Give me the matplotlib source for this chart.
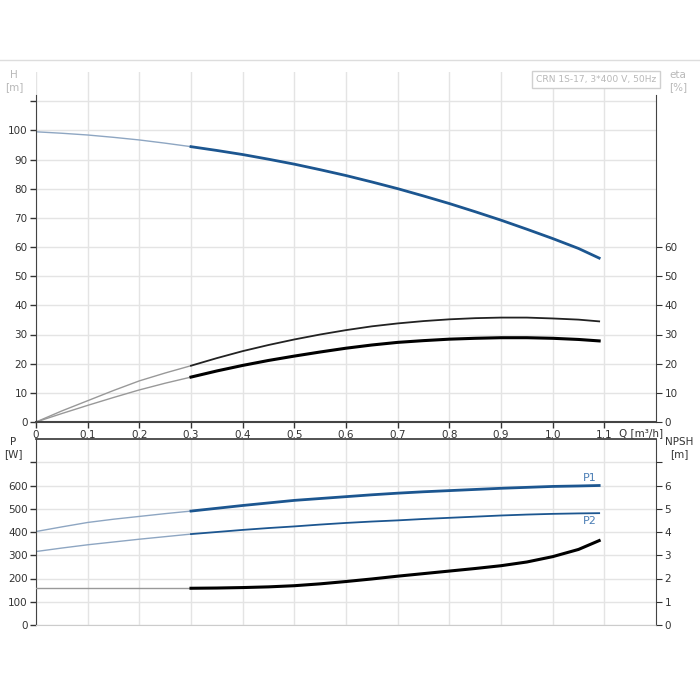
import numpy as np
import matplotlib
matplotlib.use('Agg')
import matplotlib.pyplot as plt

# flow points, m3/h
q = [0.0, 0.05, 0.1, 0.15, 0.2, 0.25, 0.3, 0.35, 0.4, 0.45, 0.5, 0.55,
     0.6, 0.65, 0.7, 0.75, 0.8, 0.85, 0.9, 0.95, 1.0, 1.05, 1.09]

# head [m]
head = [99.5, 99.0, 98.4, 97.6, 96.7, 95.6, 94.4, 93.1, 91.7, 90.1, 88.4, 86.5,
        84.5, 82.3, 80.0, 77.5, 74.9, 72.1, 69.2, 66.1, 62.9, 59.5, 56.2]
# efficiencies [%]
eta_pump = [0.0, 3.8, 7.3, 10.8, 14.1, 16.8, 19.3, 21.9, 24.3, 26.4, 28.3, 30.0,
            31.5, 32.8, 33.8, 34.6, 35.2, 35.6, 35.8, 35.8, 35.5, 35.1, 34.5]
eta_total = [0.0, 2.9, 5.7, 8.4, 11.0, 13.3, 15.4, 17.5, 19.4, 21.1, 22.6, 24.0,
             25.3, 26.4, 27.3, 27.9, 28.4, 28.7, 28.9, 28.9, 28.7, 28.3, 27.8]
# power [W]
p1 = [402, 422, 441, 455, 467, 479, 490, 502, 514, 525, 536, 544,
      552, 560, 567, 573, 578, 583, 588, 592, 596, 598, 600]
p2 = [316, 331, 345, 357, 369, 380, 391, 400, 409, 417, 424, 432,
      439, 445, 450, 456, 461, 466, 471, 475, 478, 480, 481]
# NPSH [m]
npsh = [1.58, 1.58, 1.58, 1.58, 1.58, 1.58, 1.58, 1.59, 1.61, 1.64, 1.69, 1.77,
        1.87, 1.98, 2.10, 2.21, 2.32, 2.43, 2.55, 2.71, 2.94, 3.25, 3.63]

title = "CRN 1S-17, 3*400 V, 50Hz"
q_ticks = [0, 0.1, 0.2, 0.3, 0.4, 0.5, 0.6, 0.7, 0.8, 0.9, 1.0, 1.1]
q_labels = ['0', '0.1', '0.2', '0.3', '0.4', '0.5', '0.6', '0.7', '0.8', '0.9', '1.0', '1.1']

BLUE = '#1c5690'
THIN_BLUE = '#8ea6c2'
GRID = '#e4e4e4'
TXT = '#333333'
LIGHT = '#b8b8b8'
start = 6  # index of q=0.3, where the thick part starts

plt.rcParams['font.family'] = ['DejaVu Sans']
plt.rcParams['font.size'] = 7.5

fig = plt.figure(figsize=(7, 7), dpi=100)
ax1 = fig.add_axes([36/700, 1 - 422/700, 620/700, 350/700])
ax2 = fig.add_axes([36/700, 1 - 625/700, 620/700, 186/700])

fig.add_artist(plt.Line2D([0, 1], [1 - 60/700, 1 - 60/700], color='#dddddd', lw=1))


def style(ax, ymax, yticks, ylabels):
    ax.set_xlim(0, 1.2)
    ax.set_ylim(0, ymax)
    ax.set_xticks(q_ticks)
    ax.set_yticks(yticks)
    ax.set_yticklabels(ylabels)
    ax.grid(True, color=GRID, lw=1)
    ax.set_axisbelow(True)
    ax.tick_params(colors=TXT, labelcolor=TXT, length=4, width=1, pad=2)
    for s in ['top', 'right', 'bottom', 'left']:
        ax.spines[s].set_color('#444444')


# ---- top: head and efficiency ----
style(ax1, 120, np.arange(0, 120, 10), [str(v) if v <= 100 else '' for v in range(0, 120, 10)])
ax1.set_xticklabels(q_labels)
ax1.spines['top'].set_visible(False)
ax1.spines['left'].set_bounds(0, 112)
ax1.spines['right'].set_bounds(0, 112)
ax1.spines['bottom'].set_linewidth(1.5)
ax1r = ax1.twinx()
ax1r.set_ylim(0, 120)
ax1r.set_yticks(np.arange(0, 70, 10))
ax1r.tick_params(colors=TXT, labelcolor=TXT, length=4, pad=2)
for s in ax1r.spines.values():
    s.set_visible(False)

ax1.plot(q[:start + 1], head[:start + 1], color=THIN_BLUE, lw=1)
ax1.plot(q[start:], head[start:], color=BLUE, lw=2)
ax1.plot(q[:start + 1], eta_pump[:start + 1], color='#999999', lw=1)
ax1.plot(q[start:], eta_pump[start:], color='#222222', lw=1.3)
ax1.plot(q[:start + 1], eta_total[:start + 1], color='#999999', lw=1)
ax1.plot(q[start:], eta_total[start:], color='black', lw=2.2)

ax1.text(1.128, -2.2, 'Q [m³/h]', ha='left', va='top', color=TXT)
fig.text(14/700, 1 - 81/700, 'H\n[m]', ha='center', va='center', color=LIGHT, fontsize=7.5)
fig.text(678/700, 1 - 81/700, 'eta\n[%]', ha='center', va='center', color=LIGHT, fontsize=7.5)
fig.text(596/700, 1 - 79.5/700, title, ha='center', va='center', color=LIGHT, fontsize=6.6,
         bbox=dict(boxstyle='square,pad=0.45', fc='white', ec='#d0d0d0', lw=1))

# ---- bottom: power and NPSH ----
style(ax2, 800, np.arange(0, 800, 100), [str(v) if v <= 600 else '' for v in range(0, 800, 100)])
ax2.set_xticklabels([])
ax2.tick_params(axis='x', length=0)
ax2.spines['bottom'].set_color('#cccccc')
ax2.spines['top'].set_linewidth(1.3)
ax2r = ax2.twinx()
ax2r.set_ylim(0, 8)
ax2r.set_yticks(range(0, 8))
ax2r.set_yticklabels([str(v) if v <= 6 else '' for v in range(0, 8)])
ax2r.tick_params(colors=TXT, labelcolor=TXT, length=4, pad=2)
for s in ax2r.spines.values():
    s.set_visible(False)

ax2.plot(q[:start + 1], p1[:start + 1], color=THIN_BLUE, lw=1)
ax2.plot(q[start:], p1[start:], color=BLUE, lw=2)
ax2.plot(q[:start + 1], p2[:start + 1], color=THIN_BLUE, lw=1)
ax2.plot(q[start:], p2[start:], color=BLUE, lw=1.3)
ax2r.plot(q[:start + 1], npsh[:start + 1], color='#999999', lw=1)
ax2r.plot(q[start:], npsh[start:], color='black', lw=2.2)

ax2.text(q[-1] - 0.005, p1[-1] + 12, 'P1', ha='right', va='bottom', color='#4a7db5', fontsize=8)
ax2.text(q[-1] - 0.005, p2[-1] - 12, 'P2', ha='right', va='top', color='#4a7db5', fontsize=8)
fig.text(13/700, 1 - 448/700, 'P\n[W]', ha='center', va='center', color=TXT, fontsize=7.5)
fig.text(679/700, 1 - 448/700, 'NPSH\n[m]', ha='center', va='center', color=TXT, fontsize=7.5)

fig.savefig('out.png', dpi=100)
